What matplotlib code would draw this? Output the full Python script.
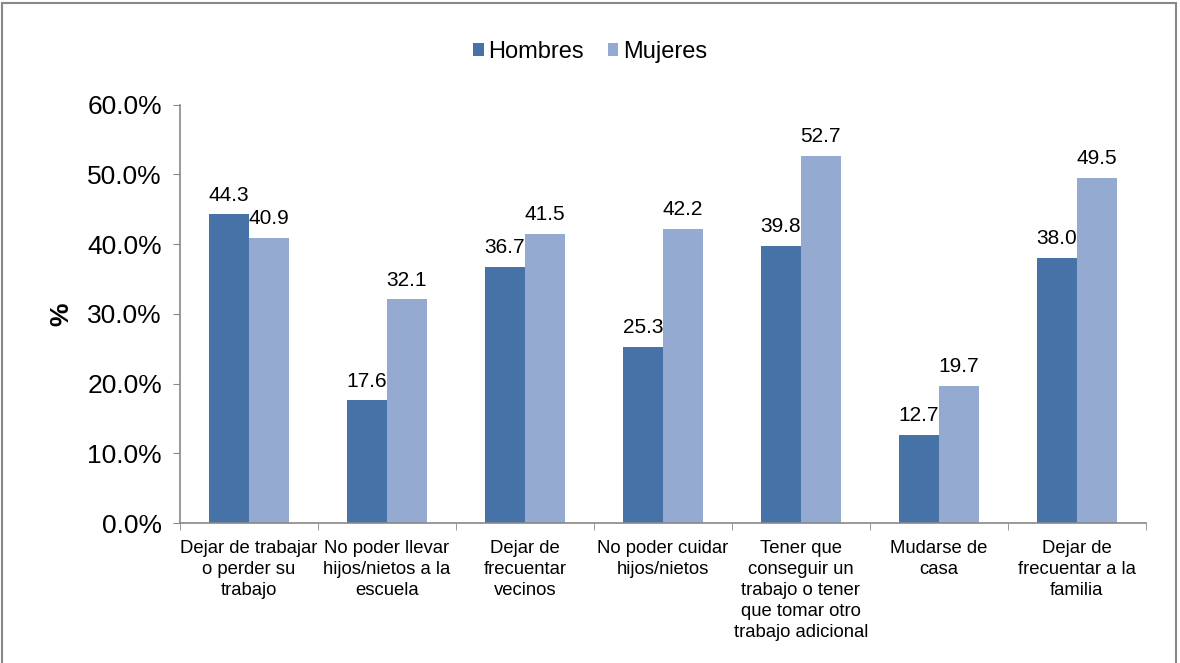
import matplotlib.pyplot as plt
import numpy as np
from matplotlib.patches import Rectangle

plt.rcParams["font.family"] = ["Liberation Sans", "DejaVu Sans"]

categories = [
    "Dejar de trabajar\no perder su\ntrabajo",
    "No poder llevar\nhijos/nietos a la\nescuela",
    "Dejar de\nfrecuentar\nvecinos",
    "No poder cuidar\nhijos/nietos",
    "Tener que\nconseguir un\ntrabajo o tener\nque tomar otro\ntrabajo adicional",
    "Mudarse de\ncasa",
    "Dejar de\nfrecuentar a la\nfamilia",
]
hombres = [44.3, 17.6, 36.7, 25.3, 39.8, 12.7, 38.0]
mujeres = [40.9, 32.1, 41.5, 42.2, 52.7, 19.7, 49.5]
yticks = [0, 10, 20, 30, 40, 50, 60]

C_H = "#4672A8"
C_M = "#95AAD1"

fig = plt.figure(figsize=(11.8, 6.63), dpi=100)
ax = fig.add_axes([0.1525, 0.211, 0.8185, 0.631])

x = np.arange(len(categories))
w = 0.29
b1 = ax.bar(x - w / 2, hombres, w, color=C_H, label="Hombres")
b2 = ax.bar(x + w / 2, mujeres, w, color=C_M, label="Mujeres")

for bars, vals in ((b1, hombres), (b2, mujeres)):
    for r, v in zip(bars, vals):
        ax.annotate(f"{v:.1f}", (r.get_x() + r.get_width() / 2, v),
                    xytext=(0, 7), textcoords="offset points",
                    ha="center", va="bottom", fontsize=15)

ax.set_xlim(-0.5, len(categories) - 0.5)
ax.set_ylim(0, 60)
ax.set_yticks(yticks)
ax.set_yticklabels([f"{t:.1f}%" for t in yticks], fontsize=19)
ax.set_xticks(x)
ax.set_xticklabels(categories, fontsize=13.3, linespacing=1.32)
ax.tick_params(axis="x", length=0, pad=12)
ax.set_xticks(np.arange(len(categories) + 1) - 0.5, minor=True)
ax.tick_params(axis="x", which="minor", length=5, color="#888888", direction="out")
ax.tick_params(axis="y", length=5, color="#888888", direction="out", pad=8)

for s in ("top", "right"):
    ax.spines[s].set_visible(False)
for s in ("left", "bottom"):
    ax.spines[s].set_color("#888888")
    ax.spines[s].set_linewidth(1.2)

ax.set_ylabel("%", fontsize=19, fontweight="bold", labelpad=10)

fig.legend(loc="center", bbox_to_anchor=(0.5, 0.922), ncol=2, frameon=False,
           fontsize=17, handlelength=0.45, handleheight=0.45, handletextpad=0.2,
           columnspacing=1.0)

fig.patches.append(Rectangle((0.002, -0.05), 0.995, 1.045, transform=fig.transFigure,
                             fill=False, edgecolor="#888888", linewidth=1.5))

fig.savefig("out.png", dpi=100)
